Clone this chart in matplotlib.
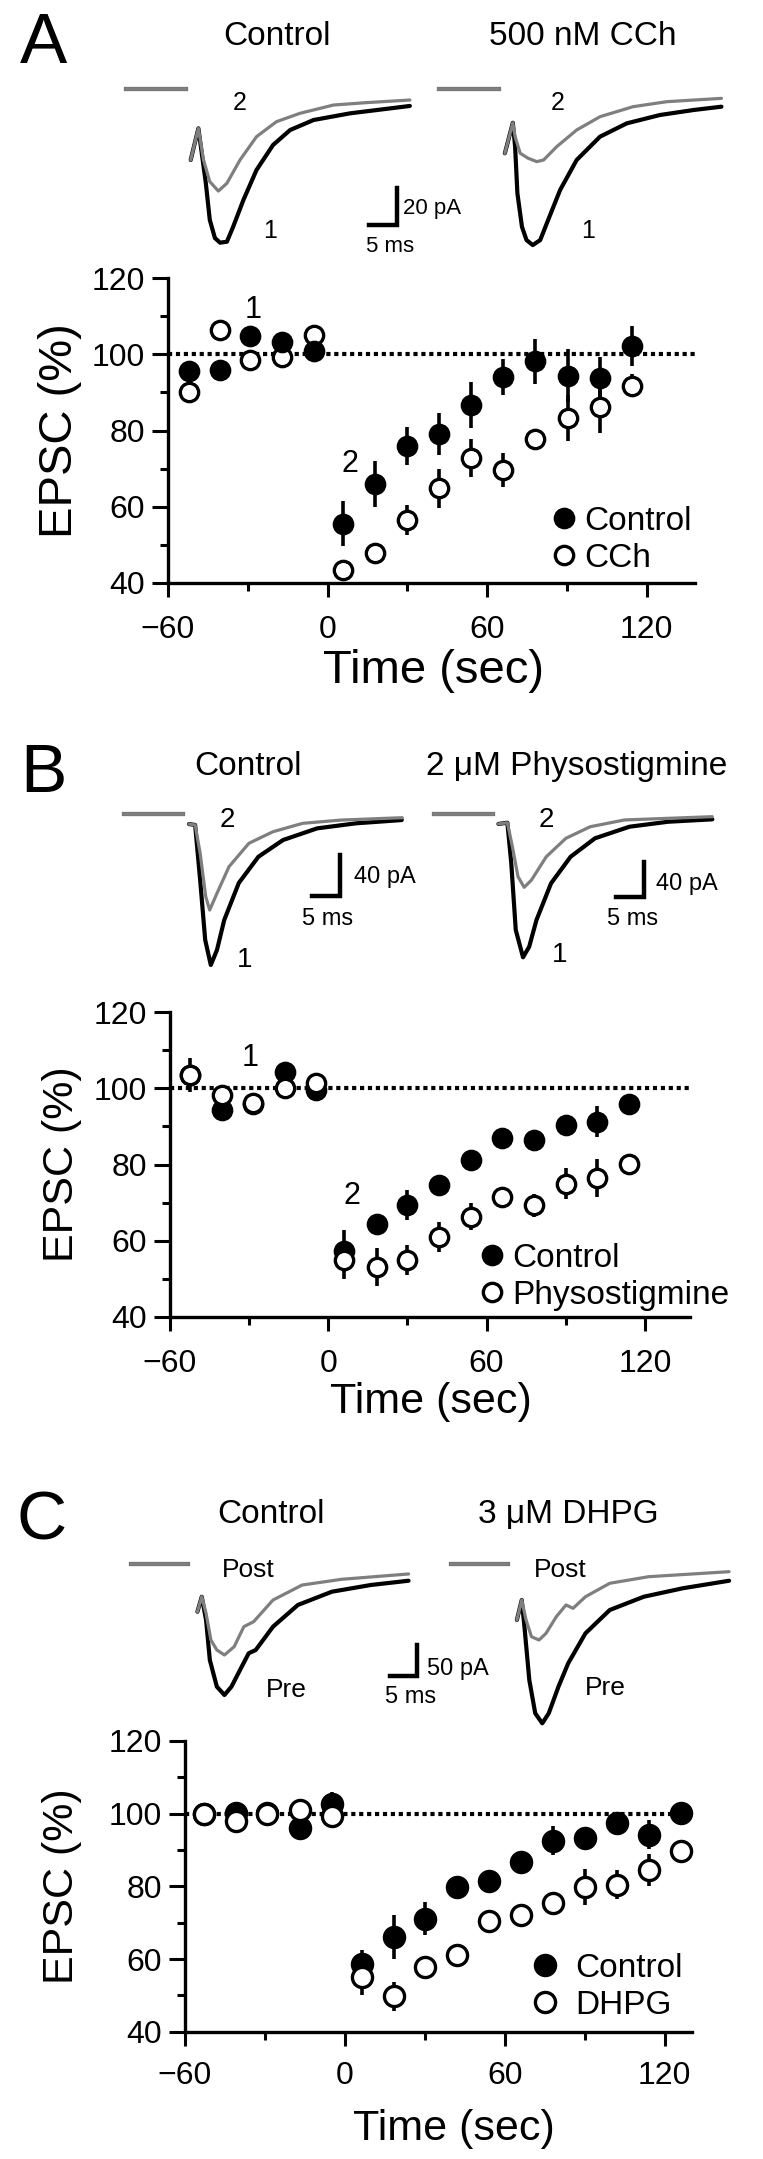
#!/usr/bin/env python3
# EPSC traces and time courses, three panels (A, B, C)
import matplotlib
matplotlib.use("Agg")
import matplotlib.pyplot as plt
from matplotlib.ticker import MultipleLocator

W, H = 763, 2159
plt.rcParams['font.family'] = ['Liberation Sans', 'DejaVu Sans']

# ---------------- time course data (EPSC, % of baseline) ----------------
time_a = [-52, -40.5, -29, -17, -5, 6, 18, 30, 42, 54, 66, 78, 90.5, 102.5, 114.5]
ctrl_a = [95.6, 95.9, 104.8, 103.3, 100.8, 55.6, 66.0, 76.0, 79.2, 86.7, 94.0, 98.1, 94.4, 93.8, 102.2]
ctrl_a_err = [1, 1, 1, 1, 1, 6, 6, 5, 5.5, 6, 4.8, 6, 7, 5.5, 5.3]
cch_a = [90.2, 106.4, 98.5, 99.4, 105.1, 43.5, 48.0, 56.5, 64.8, 72.8, 69.7, 77.8, 83.3, 86.1, 91.7]
cch_a_err = [1, 1, 1, 1, 1, 2, 2, 4, 5, 5, 4.5, 2, 6, 6.8, 3]

time_b = [-52.6, -40.2, -28.6, -16.6, -4.5, 6, 18.4, 30, 42, 54, 66, 78, 90, 102, 114]
ctrl_b = [103.5, 94.3, 96.0, 104.4, 99.5, 57.3, 64.3, 69.3, 74.6, 81.2, 86.9, 86.4, 90.4, 91.3, 95.9]
ctrl_b_err = [1, 1, 1, 1, 1, 5.5, 2, 4, 2, 1.5, 1.5, 1.5, 2, 4, 1.5]
physo_b = [103.5, 98.3, 96.1, 100.0, 101.5, 54.9, 53.1, 54.9, 61.0, 66.3, 71.5, 69.3, 75.0, 76.4, 80.1]
physo_b_err = [4.5, 2, 1, 1, 1, 5, 5, 4, 4, 3.5, 2, 3, 4, 5, 2]

time_c = [-53, -40.7, -29.2, -17, -5, 6.4, 18.5, 30, 42, 54, 66, 78, 90, 102, 114, 126]
ctrl_c = [100.0, 100.3, 100.3, 96.0, 102.6, 58.5, 66.0, 71.1, 79.7, 81.6, 86.8, 92.5, 93.2, 97.3, 94.2, 100.3]
ctrl_c_err = [1, 1, 1, 1, 3.5, 4, 6, 4.5, 1.5, 1.5, 1.5, 4, 2, 1.5, 4, 3]
dhpg_c = [100.0, 98.0, 100.0, 100.9, 99.4, 55.1, 49.8, 57.8, 61.0, 70.6, 72.0, 75.3, 79.9, 80.5, 84.5, 89.8]
dhpg_c_err = [1, 1, 1, 1, 1, 5, 4, 1.5, 1.5, 3, 1.5, 1.5, 5, 4, 4.5, 1.5]

# ---------------- example traces (ms, pA) ----------------
base_t = [0, 10.5]
base_i = [0, 0]

a_l_black_t = [11.35, 12.7, 14.0, 14.7, 15.6, 16.5, 17.7, 18.8, 20.6, 22.9, 25.8, 28.8, 32.9, 39.3, 49.8]
a_l_black_i = [-38.2, -21.1, -50.6, -70.6, -80.4, -82.9, -82.4, -74.3, -59.8, -43.6, -30.1, -22.0, -16.6, -13.0, -9.0]
a_l_gray_t = [11.35, 12.7, 13.6, 14.7, 16.2, 17.7, 20.0, 22.9, 26.4, 30.5, 36.4, 42.2, 49.8]
a_l_gray_i = [-38.2, -21.1, -38.2, -49.9, -55.0, -50.8, -38.2, -25.6, -17.5, -13.0, -8.5, -7.2, -5.8]
a_r_black_t = [11.5, 12.9, 13.3, 13.7, 14.5, 15.3, 16.4, 17.7, 19.1, 21.2, 24.1, 28.2, 32.9, 38.7, 44.6, 49.5]
a_r_black_i = [-34.6, -18.1, -31.0, -56.2, -74.3, -81.5, -84.2, -81.5, -70.6, -54.4, -38.2, -25.6, -18.4, -13.9, -11.2, -9.4]
a_r_gray_t = [11.5, 12.9, 13.3, 14.2, 15.6, 17.1, 18.3, 20.6, 24.1, 28.2, 34.0, 39.9, 49.5]
a_r_gray_i = [-34.6, -18.1, -25.6, -34.6, -37.3, -39.1, -38.2, -31.0, -22.0, -14.8, -9.4, -6.7, -4.9]

b_l_black_t = [11.6, 12.7, 13.6, 14.5, 15.5, 16.6, 17.9, 20.5, 24.0, 28.4, 34.5, 41.4, 49.6]
b_l_black_i = [-9.8, -10.7, -64.4, -122.9, -147.3, -132.7, -103.4, -67.3, -41.7, -25.4, -14.0, -9.1, -5.9]
b_l_gray_t = [11.6, 12.7, 13.6, 14.6, 15.3, 16.6, 18.75, 22.3, 26.6, 31.9, 38.8, 49.7]
b_l_gray_i = [-9.8, -10.7, -38.3, -80.7, -93.7, -77.4, -51.4, -28.6, -17.3, -9.1, -5.9, -3.6]
b_r_black_t = [11.5, 13.1, 13.8, 14.6, 15.9, 17.0, 18.3, 20.9, 24.4, 28.75, 34.9, 41.8, 49.7]
b_r_black_i = [-11.2, -9.8, -55.4, -130.3, -161.0, -149.1, -119.1, -77.9, -48.0, -27.3, -14.3, -8.7, -6.0]
b_r_gray_t = [11.5, 13.1, 14.0, 15.0, 16.1, 17.4, 20.05, 23.55, 27.9, 34.0, 49.7]
b_r_gray_i = [-11.2, -9.8, -36.7, -70.4, -82.4, -74.2, -48.0, -27.3, -14.3, -6.7, -3.0]

c_l_black_t = [12.3, 13.1, 13.9, 14.6, 15.9, 17.3, 18.6, 20.5, 21.8, 23.1, 26.3, 30.9, 37.2, 44.4, 51.4]
c_l_black_i = [-76.5, -52.3, -89.8, -154.4, -197.4, -210.8, -197.4, -165.2, -143.5, -138.2, -100.6, -65.6, -44.2, -33.4, -26.5]
c_l_gray_t = [12.3, 13.1, 13.9, 14.8, 15.9, 17.3, 19.1, 20.9, 22.7, 26.3, 31.7, 39.0, 51.4]
c_l_gray_i = [-76.5, -52.3, -79.0, -122.1, -138.2, -146.3, -132.9, -100.6, -92.6, -57.6, -33.4, -24.2, -15.6]
c_r_black_t = [12.2, 13.1, 13.6, 14.5, 15.6, 16.9, 18.1, 19.9, 21.7, 24.9, 29.4, 35.7, 42.9, 51.5]
c_r_black_i = [-89.8, -57.6, -100.6, -186.6, -240.3, -256.5, -240.3, -197.4, -159.7, -111.3, -73.7, -52.3, -38.7, -26.5]
c_r_gray_t = [12.2, 13.1, 13.9, 14.9, 16.3, 17.6, 19.5, 21.3, 22.6, 24.9, 29.4, 36.6, 51.5]
c_r_gray_i = [-89.8, -57.6, -89.8, -116.8, -122.1, -111.3, -84.5, -65.6, -71.0, -52.3, -30.6, -20.0, -11.9]

bar_ms = 5
bar_pa_a, bar_pa_b, bar_pa_c = 20, 40, 50

GRAY = '#7f7f7f'
fig = plt.figure(figsize=(W / 100, H / 100), dpi=100)


def txt(x, y, s, size, ha='left', va='baseline'):
    # place text at a pixel position of the figure
    fig.text(x / W, 1 - y / H, s, fontsize=size, ha=ha, va=va)


def trace_axes(x0, y0, sx, sy):
    # axes where t=0, I=0 sits at pixel (x0, y0); sx px per ms, sy px per pA
    tmin, tmax, imin, imax = 0, 56, -270, 15
    ax = fig.add_axes([x0 / W, 1 - (y0 - imin * sy) / H,
                       (tmax - tmin) * sx / W, (imax - imin) * sy / H])
    ax.set_xlim(tmin, tmax)
    ax.set_ylim(imin, imax)
    ax.axis('off')
    ax.patch.set_visible(False)
    return ax


def draw_traces(ax, bt, bi, gt, gi):
    ax.plot(base_t, base_i, color='black', lw=3.0, clip_on=False)
    ax.plot(base_t, base_i, color=GRAY, lw=2.8, clip_on=False)
    ax.plot(bt, bi, color='black', lw=3.0, clip_on=False,
            solid_joinstyle='round', solid_capstyle='round')
    ax.plot(gt, gi, color=GRAY, lw=2.3, clip_on=False,
            solid_joinstyle='round', solid_capstyle='round')


def scale_bar(ax, t, i, pa):
    ax.plot([t - bar_ms, t, t], [i, i, i + pa], color='black', lw=3.2,
            solid_joinstyle='miter', clip_on=False)


def time_course(rect, t, ctrl, ctrl_err, drug, drug_err, drug_label, xmax,
                ms, open_on_top, leg_xy, leg_pad, lab_size, xlab_xy, ylab_x, xpad):
    ax = fig.add_axes(rect)
    ax.axhline(100, color='black', lw=3, ls=(0, (1, 0.9)), zorder=1)
    zc, zd = (4, 3) if not open_on_top else (3, 4)
    c1 = ax.errorbar(t, ctrl, yerr=ctrl_err, fmt='o', ms=ms, mfc='black', mec='black',
                     mew=2.4, ecolor='black', elinewidth=2.6, capsize=0,
                     clip_on=False, zorder=zc)
    c2 = ax.errorbar(t, drug, yerr=drug_err, fmt='o', ms=ms, mfc='white', mec='black',
                     mew=2.4, ecolor='black', elinewidth=2.6, capsize=0,
                     clip_on=False, zorder=zd)
    for c in (c1, c2):
        for part in c.lines[2]:
            part.set_clip_on(False)
    ax.set_xlim(-60, xmax)
    ax.set_ylim(40, 120)
    ax.set_xticks([-60, 0, 60, 120])
    ax.set_yticks([40, 60, 80, 100, 120])
    ax.xaxis.set_minor_locator(MultipleLocator(30))
    ax.yaxis.set_minor_locator(MultipleLocator(10))
    for s in ('top', 'right'):
        ax.spines[s].set_visible(False)
    for s in ('left', 'bottom'):
        ax.spines[s].set_linewidth(2.4)
    ax.tick_params(axis='both', which='major', direction='out', width=2.2,
                   labelsize=23)
    ax.tick_params(axis='y', which='major', length=11.5, pad=5)
    ax.tick_params(axis='x', which='major', length=10, pad=xpad)
    ax.tick_params(axis='both', which='minor', direction='out', width=2.2, length=5.5)
    ax.set_xlabel('Time (sec)', fontsize=lab_size)
    ax.set_ylabel('EPSC (%)', fontsize=lab_size)
    ax.xaxis.set_label_coords(*xlab_xy)
    ax.xaxis.label.set_va('baseline')
    ax.yaxis.set_label_coords(ylab_x, 0.5)
    ax.yaxis.label.set_va('baseline')
    ax.legend([c1[0], c2[0]], ['Control', drug_label], loc='lower left',
              bbox_to_anchor=leg_xy, frameon=False, fontsize=24,
              handlelength=0.6, handletextpad=leg_pad, labelspacing=0.18,
              borderpad=0, borderaxespad=0, markerscale=1.0)
    return ax


# ================= Panel A =================
txt(20, 63, 'A', 51)
txt(277, 45, 'Control', 24, ha='center')
txt(583, 45, '500 nM CCh', 24, ha='center')
ax = trace_axes(126, 89.3, 5.7, 1.85)
draw_traces(ax, a_l_black_t, a_l_black_i, a_l_gray_t, a_l_gray_i)
scale_bar(ax, 47.6, -73.4, bar_pa_a)
ax = trace_axes(439.3, 89.3, 5.7, 1.85)
draw_traces(ax, a_r_black_t, a_r_black_i, a_r_gray_t, a_r_gray_i)
txt(240, 110, '2', 18, ha='center')
txt(270, 238, '1', 18, ha='center')
txt(558, 110, '2', 18, ha='center')
txt(588, 238, '1', 18, ha='center')
txt(403, 214, '20 pA', 16)
txt(366, 252, '5 ms', 16)

ax = time_course([168 / W, 1 - 583 / H, 527 / W, 305 / H], time_a, ctrl_a, ctrl_a_err,
                 cch_a, cch_a_err, 'CCh', 138.2, 13.2, False, (0.733, 0.03), 0.3,
                 34, (0.503, -0.328), -0.182, 13)
ax.text(-28, 109.5, '1', fontsize=22, ha='center', va='baseline')
ax.text(8.6, 69.2, '2', fontsize=22, ha='center', va='baseline')

# ================= Panel B =================
txt(20, 792, 'B', 50)
txt(248, 775, 'Control', 24, ha='center')
txt(577, 775, '2 \u03bcM Physostigmine', 24, ha='center')
ax = trace_axes(124, 814, 5.6, 1.025)
draw_traces(ax, b_l_black_t, b_l_black_i, b_l_gray_t, b_l_gray_i)
scale_bar(ax, 38.6, -80.0, bar_pa_b)
ax = trace_axes(434, 814, 5.6, 0.89)
draw_traces(ax, b_r_black_t, b_r_black_i, b_r_gray_t, b_r_gray_i)
scale_bar(ax, 37.5, -93.6, bar_pa_b)
txt(227, 827, '2', 20, ha='center')
txt(245, 967, '1', 20, ha='center')
txt(546, 827, '2', 20, ha='center')
txt(560, 962, '1', 20, ha='center')
txt(354, 883, '40 pA', 17)
txt(302, 925, '5 ms', 17)
txt(656, 890, '40 pA', 17)
txt(607, 925, '5 ms', 17)

ax = time_course([170 / W, 1 - 1316.7 / H, 520 / W, 304.4 / H], time_b, ctrl_b, ctrl_b_err,
                 physo_b, physo_b_err, 'Physostigmine', 137.1, 13.2, True, (0.6, 0.02), 0.3,
                 31, (0.502, -0.316), -0.187, 13)
ax.text(-29.6, 106, '1', fontsize=22, ha='center', va='baseline')
ax.text(9.1, 69.5, '2', fontsize=22, ha='center', va='baseline')

# ================= Panel C =================
txt(17, 1540, 'C', 50)
txt(271, 1523, 'Control', 24, ha='center')
txt(568, 1523, '3 \u03bcM DHPG', 24, ha='center')
ax = trace_axes(131, 1564.3, 5.4, 0.62)
draw_traces(ax, c_l_black_t, c_l_black_i, c_l_gray_t, c_l_gray_i)
scale_bar(ax, 53.0, -180.2, bar_pa_c)
ax = trace_axes(451, 1564.3, 5.4, 0.62)
draw_traces(ax, c_r_black_t, c_r_black_i, c_r_gray_t, c_r_gray_i)
txt(222, 1577, 'Post', 19)
txt(266, 1697, 'Pre', 19)
txt(534, 1577, 'Post', 19)
txt(585, 1695, 'Pre', 19)
txt(427, 1675, '50 pA', 17)
txt(385, 1703, '5 ms', 17)

ax = time_course([185 / W, 1 - 2031.7 / H, 507 / W, 290.7 / H], time_c, ctrl_c, ctrl_c_err,
                 dhpg_c, dhpg_c_err, 'DHPG', 130.3, 14.5, True, (0.69, 0.037), 0.6,
                 31, (0.53, -0.3725), -0.221, 11)

fig.savefig('out.png', dpi=100)
plt.close(fig)
